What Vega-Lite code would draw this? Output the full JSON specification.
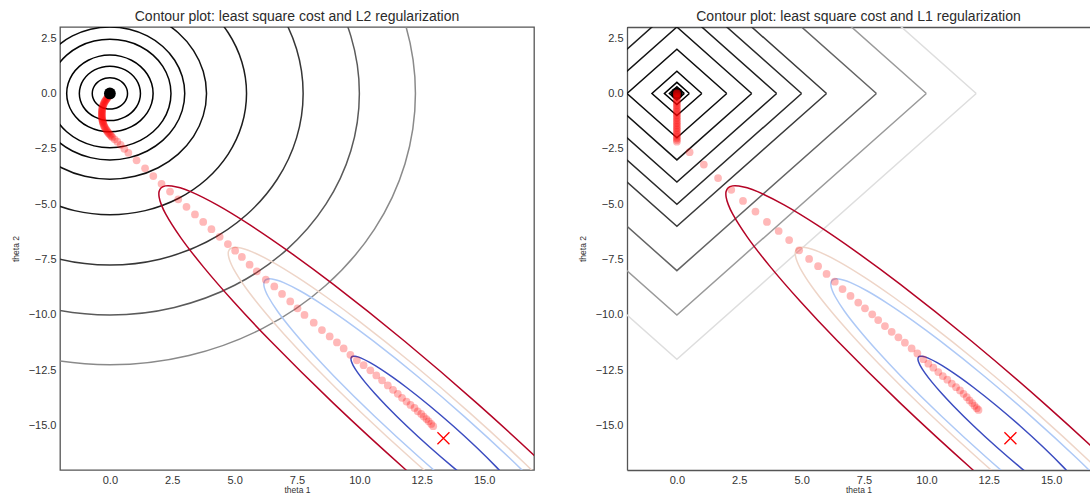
{
"$schema": "https://vega.github.io/schema/vega-lite/v6.json",
"padding": {"left": 10, "top": 9, "right": 0, "bottom": 0},
"spacing": 43,
"config": {
  "font": "Liberation Sans",
  "view": {"stroke": "#555555", "strokeWidth": 1.3},
  "axis": {"grid": false, "ticks": false, "tickSize": 0, "domain": false, "labelFontSize": 11, "labelColor": "#333333", "titleFontSize": 8.5, "titleFontWeight": "normal", "titleColor": "#333333"},
  "axisX": {"labelPadding": 4, "titlePadding": 0},
  "axisY": {"labelPadding": 4, "titlePadding": 8},
  "title": {"fontSize": 14, "fontWeight": "normal", "color": "#2b2b2b", "offset": 3}
},
"datasets": {
"circ": [
{"c":"r1","i":0,"x":0.707,"y":0},{"c":"r1","i":1,"x":0.683,"y":0.183},{"c":"r1","i":2,"x":0.612,"y":0.354},{"c":"r1","i":3,"x":0.5,"y":0.5},{"c":"r1","i":4,"x":0.354,"y":0.612},{"c":"r1","i":5,"x":0.183,"y":0.683},{"c":"r1","i":6,"x":0,"y":0.707},{"c":"r1","i":7,"x":-0.183,"y":0.683},{"c":"r1","i":8,"x":-0.354,"y":0.612},{"c":"r1","i":9,"x":-0.5,"y":0.5},{"c":"r1","i":10,"x":-0.612,"y":0.354},{"c":"r1","i":11,"x":-0.683,"y":0.183},{"c":"r1","i":12,"x":-0.707,"y":0},{"c":"r1","i":13,"x":-0.683,"y":-0.183},{"c":"r1","i":14,"x":-0.612,"y":-0.354},{"c":"r1","i":15,"x":-0.5,"y":-0.5},{"c":"r1","i":16,"x":-0.354,"y":-0.612},{"c":"r1","i":17,"x":-0.183,"y":-0.683},{"c":"r1","i":18,"x":0,"y":-0.707},{"c":"r1","i":19,"x":0.183,"y":-0.683},{"c":"r1","i":20,"x":0.354,"y":-0.612},{"c":"r1","i":21,"x":0.5,"y":-0.5},{"c":"r1","i":22,"x":0.612,"y":-0.354},{"c":"r1","i":23,"x":0.683,"y":-0.183},
{"c":"r2","i":0,"x":1.225,"y":0},{"c":"r2","i":1,"x":1.183,"y":0.317},{"c":"r2","i":2,"x":1.061,"y":0.612},{"c":"r2","i":3,"x":0.866,"y":0.866},{"c":"r2","i":4,"x":0.612,"y":1.061},{"c":"r2","i":5,"x":0.317,"y":1.183},{"c":"r2","i":6,"x":0,"y":1.225},{"c":"r2","i":7,"x":-0.317,"y":1.183},{"c":"r2","i":8,"x":-0.612,"y":1.061},{"c":"r2","i":9,"x":-0.866,"y":0.866},{"c":"r2","i":10,"x":-1.061,"y":0.612},{"c":"r2","i":11,"x":-1.183,"y":0.317},{"c":"r2","i":12,"x":-1.225,"y":0},{"c":"r2","i":13,"x":-1.183,"y":-0.317},{"c":"r2","i":14,"x":-1.061,"y":-0.612},{"c":"r2","i":15,"x":-0.866,"y":-0.866},{"c":"r2","i":16,"x":-0.612,"y":-1.061},{"c":"r2","i":17,"x":-0.317,"y":-1.183},{"c":"r2","i":18,"x":0,"y":-1.225},{"c":"r2","i":19,"x":0.317,"y":-1.183},{"c":"r2","i":20,"x":0.612,"y":-1.061},{"c":"r2","i":21,"x":0.866,"y":-0.866},{"c":"r2","i":22,"x":1.061,"y":-0.612},{"c":"r2","i":23,"x":1.183,"y":-0.317},
{"c":"r3","i":0,"x":1.732,"y":0},{"c":"r3","i":1,"x":1.673,"y":0.448},{"c":"r3","i":2,"x":1.5,"y":0.866},{"c":"r3","i":3,"x":1.225,"y":1.225},{"c":"r3","i":4,"x":0.866,"y":1.5},{"c":"r3","i":5,"x":0.448,"y":1.673},{"c":"r3","i":6,"x":0,"y":1.732},{"c":"r3","i":7,"x":-0.448,"y":1.673},{"c":"r3","i":8,"x":-0.866,"y":1.5},{"c":"r3","i":9,"x":-1.225,"y":1.225},{"c":"r3","i":10,"x":-1.5,"y":0.866},{"c":"r3","i":11,"x":-1.673,"y":0.448},{"c":"r3","i":12,"x":-1.732,"y":0},{"c":"r3","i":13,"x":-1.673,"y":-0.448},{"c":"r3","i":14,"x":-1.5,"y":-0.866},{"c":"r3","i":15,"x":-1.225,"y":-1.225},{"c":"r3","i":16,"x":-0.866,"y":-1.5},{"c":"r3","i":17,"x":-0.448,"y":-1.673},{"c":"r3","i":18,"x":0,"y":-1.732},{"c":"r3","i":19,"x":0.448,"y":-1.673},{"c":"r3","i":20,"x":0.866,"y":-1.5},{"c":"r3","i":21,"x":1.225,"y":-1.225},{"c":"r3","i":22,"x":1.5,"y":-0.866},{"c":"r3","i":23,"x":1.673,"y":-0.448},
{"c":"r4","i":0,"x":2.449,"y":0},{"c":"r4","i":1,"x":2.366,"y":0.634},{"c":"r4","i":2,"x":2.121,"y":1.225},{"c":"r4","i":3,"x":1.732,"y":1.732},{"c":"r4","i":4,"x":1.225,"y":2.121},{"c":"r4","i":5,"x":0.634,"y":2.366},{"c":"r4","i":6,"x":0,"y":2.449},{"c":"r4","i":7,"x":-0.634,"y":2.366},{"c":"r4","i":8,"x":-1.225,"y":2.121},{"c":"r4","i":9,"x":-1.732,"y":1.732},{"c":"r4","i":10,"x":-2.121,"y":1.225},{"c":"r4","i":11,"x":-2.366,"y":0.634},{"c":"r4","i":12,"x":-2.449,"y":0},{"c":"r4","i":13,"x":-2.366,"y":-0.634},{"c":"r4","i":14,"x":-2.121,"y":-1.225},{"c":"r4","i":15,"x":-1.732,"y":-1.732},{"c":"r4","i":16,"x":-1.225,"y":-2.121},{"c":"r4","i":17,"x":-0.634,"y":-2.366},{"c":"r4","i":18,"x":0,"y":-2.449},{"c":"r4","i":19,"x":0.634,"y":-2.366},{"c":"r4","i":20,"x":1.225,"y":-2.121},{"c":"r4","i":21,"x":1.732,"y":-1.732},{"c":"r4","i":22,"x":2.121,"y":-1.225},{"c":"r4","i":23,"x":2.366,"y":-0.634},
{"c":"r5","i":0,"x":3,"y":0},{"c":"r5","i":1,"x":2.898,"y":0.776},{"c":"r5","i":2,"x":2.598,"y":1.5},{"c":"r5","i":3,"x":2.121,"y":2.121},{"c":"r5","i":4,"x":1.5,"y":2.598},{"c":"r5","i":5,"x":0.776,"y":2.898},{"c":"r5","i":6,"x":0,"y":3},{"c":"r5","i":7,"x":-0.776,"y":2.898},{"c":"r5","i":8,"x":-1.5,"y":2.598},{"c":"r5","i":9,"x":-2.121,"y":2.121},{"c":"r5","i":10,"x":-2.598,"y":1.5},{"c":"r5","i":11,"x":-2.898,"y":0.776},{"c":"r5","i":12,"x":-3,"y":0},{"c":"r5","i":13,"x":-2.898,"y":-0.776},{"c":"r5","i":14,"x":-2.598,"y":-1.5},{"c":"r5","i":15,"x":-2.121,"y":-2.121},{"c":"r5","i":16,"x":-1.5,"y":-2.598},{"c":"r5","i":17,"x":-0.776,"y":-2.898},{"c":"r5","i":18,"x":0,"y":-3},{"c":"r5","i":19,"x":0.776,"y":-2.898},{"c":"r5","i":20,"x":1.5,"y":-2.598},{"c":"r5","i":21,"x":2.121,"y":-2.121},{"c":"r5","i":22,"x":2.598,"y":-1.5},{"c":"r5","i":23,"x":2.898,"y":-0.776},
{"c":"r6","i":0,"x":3.873,"y":0},{"c":"r6","i":1,"x":3.741,"y":1.002},{"c":"r6","i":2,"x":3.354,"y":1.936},{"c":"r6","i":3,"x":2.739,"y":2.739},{"c":"r6","i":4,"x":1.936,"y":3.354},{"c":"r6","i":5,"x":1.002,"y":3.741},{"c":"r6","i":6,"x":0,"y":3.873},{"c":"r6","i":7,"x":-1.002,"y":3.741},{"c":"r6","i":8,"x":-1.936,"y":3.354},{"c":"r6","i":9,"x":-2.739,"y":2.739},{"c":"r6","i":10,"x":-3.354,"y":1.936},{"c":"r6","i":11,"x":-3.741,"y":1.002},{"c":"r6","i":12,"x":-3.873,"y":0},{"c":"r6","i":13,"x":-3.741,"y":-1.002},{"c":"r6","i":14,"x":-3.354,"y":-1.936},{"c":"r6","i":15,"x":-2.739,"y":-2.739},{"c":"r6","i":16,"x":-1.936,"y":-3.354},{"c":"r6","i":17,"x":-1.002,"y":-3.741},{"c":"r6","i":18,"x":0,"y":-3.873},{"c":"r6","i":19,"x":1.002,"y":-3.741},{"c":"r6","i":20,"x":1.936,"y":-3.354},{"c":"r6","i":21,"x":2.739,"y":-2.739},{"c":"r6","i":22,"x":3.354,"y":-1.936},{"c":"r6","i":23,"x":3.741,"y":-1.002},
{"c":"r7","i":0,"x":5.477,"y":0},{"c":"r7","i":1,"x":5.29,"y":1.417},{"c":"r7","i":2,"x":4.743,"y":2.739},{"c":"r7","i":3,"x":3.873,"y":3.873},{"c":"r7","i":4,"x":2.739,"y":4.743},{"c":"r7","i":5,"x":1.417,"y":5.29},{"c":"r7","i":6,"x":0,"y":5.477},{"c":"r7","i":7,"x":-1.417,"y":5.29},{"c":"r7","i":8,"x":-2.739,"y":4.743},{"c":"r7","i":9,"x":-3.873,"y":3.873},{"c":"r7","i":10,"x":-4.743,"y":2.739},{"c":"r7","i":11,"x":-5.29,"y":1.417},{"c":"r7","i":12,"x":-5.477,"y":0},{"c":"r7","i":13,"x":-5.29,"y":-1.417},{"c":"r7","i":14,"x":-4.743,"y":-2.739},{"c":"r7","i":15,"x":-3.873,"y":-3.873},{"c":"r7","i":16,"x":-2.739,"y":-4.743},{"c":"r7","i":17,"x":-1.417,"y":-5.29},{"c":"r7","i":18,"x":0,"y":-5.477},{"c":"r7","i":19,"x":1.417,"y":-5.29},{"c":"r7","i":20,"x":2.739,"y":-4.743},{"c":"r7","i":21,"x":3.873,"y":-3.873},{"c":"r7","i":22,"x":4.743,"y":-2.739},{"c":"r7","i":23,"x":5.29,"y":-1.417},
{"c":"r8","i":0,"x":7.746,"y":0},{"c":"r8","i":1,"x":7.482,"y":2.005},{"c":"r8","i":2,"x":6.708,"y":3.873},{"c":"r8","i":3,"x":5.477,"y":5.477},{"c":"r8","i":4,"x":3.873,"y":6.708},{"c":"r8","i":5,"x":2.005,"y":7.482},{"c":"r8","i":6,"x":0,"y":7.746},{"c":"r8","i":7,"x":-2.005,"y":7.482},{"c":"r8","i":8,"x":-3.873,"y":6.708},{"c":"r8","i":9,"x":-5.477,"y":5.477},{"c":"r8","i":10,"x":-6.708,"y":3.873},{"c":"r8","i":11,"x":-7.482,"y":2.005},{"c":"r8","i":12,"x":-7.746,"y":0},{"c":"r8","i":13,"x":-7.482,"y":-2.005},{"c":"r8","i":14,"x":-6.708,"y":-3.873},{"c":"r8","i":15,"x":-5.477,"y":-5.477},{"c":"r8","i":16,"x":-3.873,"y":-6.708},{"c":"r8","i":17,"x":-2.005,"y":-7.482},{"c":"r8","i":18,"x":0,"y":-7.746},{"c":"r8","i":19,"x":2.005,"y":-7.482},{"c":"r8","i":20,"x":3.873,"y":-6.708},{"c":"r8","i":21,"x":5.477,"y":-5.477},{"c":"r8","i":22,"x":6.708,"y":-3.873},{"c":"r8","i":23,"x":7.482,"y":-2.005},
{"c":"r9","i":0,"x":10,"y":0},{"c":"r9","i":1,"x":9.659,"y":2.588},{"c":"r9","i":2,"x":8.66,"y":5},{"c":"r9","i":3,"x":7.071,"y":7.071},{"c":"r9","i":4,"x":5,"y":8.66},{"c":"r9","i":5,"x":2.588,"y":9.659},{"c":"r9","i":6,"x":0,"y":10},{"c":"r9","i":7,"x":-2.588,"y":9.659},{"c":"r9","i":8,"x":-5,"y":8.66},{"c":"r9","i":9,"x":-7.071,"y":7.071},{"c":"r9","i":10,"x":-8.66,"y":5},{"c":"r9","i":11,"x":-9.659,"y":2.588},{"c":"r9","i":12,"x":-10,"y":0},{"c":"r9","i":13,"x":-9.659,"y":-2.588},{"c":"r9","i":14,"x":-8.66,"y":-5},{"c":"r9","i":15,"x":-7.071,"y":-7.071},{"c":"r9","i":16,"x":-5,"y":-8.66},{"c":"r9","i":17,"x":-2.588,"y":-9.659},{"c":"r9","i":18,"x":0,"y":-10},{"c":"r9","i":19,"x":2.588,"y":-9.659},{"c":"r9","i":20,"x":5,"y":-8.66},{"c":"r9","i":21,"x":7.071,"y":-7.071},{"c":"r9","i":22,"x":8.66,"y":-5},{"c":"r9","i":23,"x":9.659,"y":-2.588},
{"c":"r10","i":0,"x":12.247,"y":0},{"c":"r10","i":1,"x":11.83,"y":3.17},{"c":"r10","i":2,"x":10.607,"y":6.124},{"c":"r10","i":3,"x":8.66,"y":8.66},{"c":"r10","i":4,"x":6.124,"y":10.607},{"c":"r10","i":5,"x":3.17,"y":11.83},{"c":"r10","i":6,"x":0,"y":12.247},{"c":"r10","i":7,"x":-3.17,"y":11.83},{"c":"r10","i":8,"x":-6.124,"y":10.607},{"c":"r10","i":9,"x":-8.66,"y":8.66},{"c":"r10","i":10,"x":-10.607,"y":6.124},{"c":"r10","i":11,"x":-11.83,"y":3.17},{"c":"r10","i":12,"x":-12.247,"y":0},{"c":"r10","i":13,"x":-11.83,"y":-3.17},{"c":"r10","i":14,"x":-10.607,"y":-6.124},{"c":"r10","i":15,"x":-8.66,"y":-8.66},{"c":"r10","i":16,"x":-6.124,"y":-10.607},{"c":"r10","i":17,"x":-3.17,"y":-11.83},{"c":"r10","i":18,"x":0,"y":-12.247},{"c":"r10","i":19,"x":3.17,"y":-11.83},{"c":"r10","i":20,"x":6.124,"y":-10.607},{"c":"r10","i":21,"x":8.66,"y":-8.66},{"c":"r10","i":22,"x":10.607,"y":-6.124},{"c":"r10","i":23,"x":11.83,"y":-3.17}
],
"diam": [
{"c":"d01","i":0,"x":0.3,"y":0},{"c":"d01","i":1,"x":0,"y":-0.3},{"c":"d01","i":2,"x":-0.3,"y":0},{"c":"d01","i":3,"x":0,"y":0.3},{"c":"d01","i":4,"x":0.3,"y":0},
{"c":"d02","i":0,"x":0.5,"y":0},{"c":"d02","i":1,"x":0,"y":-0.5},{"c":"d02","i":2,"x":-0.5,"y":0},{"c":"d02","i":3,"x":0,"y":0.5},{"c":"d02","i":4,"x":0.5,"y":0},
{"c":"d03","i":0,"x":1,"y":0},{"c":"d03","i":1,"x":0,"y":-1},{"c":"d03","i":2,"x":-1,"y":0},{"c":"d03","i":3,"x":0,"y":1},{"c":"d03","i":4,"x":1,"y":0},
{"c":"d04","i":0,"x":2,"y":0},{"c":"d04","i":1,"x":0,"y":-2},{"c":"d04","i":2,"x":-2,"y":0},{"c":"d04","i":3,"x":0,"y":2},{"c":"d04","i":4,"x":2,"y":0},
{"c":"d05","i":0,"x":3,"y":0},{"c":"d05","i":1,"x":0,"y":-3},{"c":"d05","i":2,"x":-3,"y":0},{"c":"d05","i":3,"x":0,"y":3},{"c":"d05","i":4,"x":3,"y":0},
{"c":"d06","i":0,"x":4,"y":0},{"c":"d06","i":1,"x":0,"y":-4},{"c":"d06","i":2,"x":-4,"y":0},{"c":"d06","i":3,"x":0,"y":4},{"c":"d06","i":4,"x":4,"y":0},
{"c":"d07","i":0,"x":5,"y":0},{"c":"d07","i":1,"x":0,"y":-5},{"c":"d07","i":2,"x":-5,"y":0},{"c":"d07","i":3,"x":0,"y":5},{"c":"d07","i":4,"x":5,"y":0},
{"c":"d08","i":0,"x":6,"y":0},{"c":"d08","i":1,"x":0,"y":-6},{"c":"d08","i":2,"x":-6,"y":0},{"c":"d08","i":3,"x":0,"y":6},{"c":"d08","i":4,"x":6,"y":0},
{"c":"d09","i":0,"x":8,"y":0},{"c":"d09","i":1,"x":0,"y":-8},{"c":"d09","i":2,"x":-8,"y":0},{"c":"d09","i":3,"x":0,"y":8},{"c":"d09","i":4,"x":8,"y":0},
{"c":"d10","i":0,"x":10,"y":0},{"c":"d10","i":1,"x":0,"y":-10},{"c":"d10","i":2,"x":-10,"y":0},{"c":"d10","i":3,"x":0,"y":10},{"c":"d10","i":4,"x":10,"y":0},
{"c":"d11","i":0,"x":12,"y":0},{"c":"d11","i":1,"x":0,"y":-12},{"c":"d11","i":2,"x":-12,"y":0},{"c":"d11","i":3,"x":0,"y":12},{"c":"d11","i":4,"x":12,"y":0}
],
"ell": [
{"e":"e1","i":0,"x":16.186,"y":-18.86},{"e":"e1","i":1,"x":15.515,"y":-18.385},{"e":"e1","i":2,"x":14.693,"y":-17.713},{"e":"e1","i":3,"x":13.775,"y":-16.891},{"e":"e1","i":4,"x":12.826,"y":-15.974},{"e":"e1","i":5,"x":11.909,"y":-15.025},{"e":"e1","i":6,"x":11.087,"y":-14.107},{"e":"e1","i":7,"x":10.619,"y":-13.545},{"e":"e1","i":8,"x":10.233,"y":-13.043},{"e":"e1","i":9,"x":9.94,"y":-12.614},{"e":"e1","i":10,"x":9.749,"y":-12.273},{"e":"e1","i":11,"x":9.694,"y":-12.14},{"e":"e1","i":12,"x":9.667,"y":-12.031},{"e":"e1","i":13,"x":9.667,"y":-11.949},{"e":"e1","i":14,"x":9.694,"y":-11.894},{"e":"e1","i":15,"x":9.749,"y":-11.867},{"e":"e1","i":16,"x":9.831,"y":-11.867},{"e":"e1","i":17,"x":9.94,"y":-11.894},{"e":"e1","i":18,"x":10.073,"y":-11.949},{"e":"e1","i":19,"x":10.414,"y":-12.14},{"e":"e1","i":20,"x":10.843,"y":-12.433},{"e":"e1","i":21,"x":11.345,"y":-12.819},{"e":"e1","i":22,"x":11.907,"y":-13.287},{"e":"e1","i":23,"x":12.825,"y":-14.109},{"e":"e1","i":24,"x":13.774,"y":-15.026},{"e":"e1","i":25,"x":14.691,"y":-15.975},{"e":"e1","i":26,"x":15.513,"y":-16.893},{"e":"e1","i":27,"x":16.185,"y":-17.715},{"e":"e1","i":28,"x":16.66,"y":-18.386},
{"e":"e2","i":0,"x":18.968,"y":-22.08},{"e":"e2","i":1,"x":17.655,"y":-21.145},{"e":"e2","i":2,"x":16.046,"y":-19.826},{"e":"e2","i":3,"x":14.249,"y":-18.211},{"e":"e2","i":4,"x":12.388,"y":-16.412},{"e":"e2","i":5,"x":10.589,"y":-14.551},{"e":"e2","i":6,"x":8.974,"y":-12.754},{"e":"e2","i":7,"x":8.056,"y":-11.654},{"e":"e2","i":8,"x":7.298,"y":-10.67},{"e":"e2","i":9,"x":6.72,"y":-9.832},{"e":"e2","i":10,"x":6.343,"y":-9.167},{"e":"e2","i":11,"x":6.234,"y":-8.906},{"e":"e2","i":12,"x":6.178,"y":-8.694},{"e":"e2","i":13,"x":6.177,"y":-8.536},{"e":"e2","i":14,"x":6.229,"y":-8.429},{"e":"e2","i":15,"x":6.336,"y":-8.377},{"e":"e2","i":16,"x":6.494,"y":-8.378},{"e":"e2","i":17,"x":6.706,"y":-8.434},{"e":"e2","i":18,"x":6.967,"y":-8.543},{"e":"e2","i":19,"x":7.632,"y":-8.92},{"e":"e2","i":20,"x":8.47,"y":-9.498},{"e":"e2","i":21,"x":9.454,"y":-10.256},{"e":"e2","i":22,"x":10.554,"y":-11.174},{"e":"e2","i":23,"x":12.351,"y":-12.789},{"e":"e2","i":24,"x":14.212,"y":-14.588},{"e":"e2","i":25,"x":16.011,"y":-16.449},{"e":"e2","i":26,"x":17.626,"y":-18.246},{"e":"e2","i":27,"x":18.945,"y":-19.855},{"e":"e2","i":28,"x":19.88,"y":-21.168},
{"e":"e3","i":0,"x":20.097,"y":-23.4},{"e":"e3","i":1,"x":18.52,"y":-22.28},{"e":"e3","i":2,"x":16.588,"y":-20.698},{"e":"e3","i":3,"x":14.431,"y":-18.761},{"e":"e3","i":4,"x":12.197,"y":-16.603},{"e":"e3","i":5,"x":10.039,"y":-14.369},{"e":"e3","i":6,"x":8.102,"y":-12.212},{"e":"e3","i":7,"x":7.001,"y":-10.891},{"e":"e3","i":8,"x":6.091,"y":-9.709},{"e":"e3","i":9,"x":5.401,"y":-8.704},{"e":"e3","i":10,"x":4.95,"y":-7.904},{"e":"e3","i":11,"x":4.819,"y":-7.59},{"e":"e3","i":12,"x":4.753,"y":-7.336},{"e":"e3","i":13,"x":4.751,"y":-7.143},{"e":"e3","i":14,"x":4.815,"y":-7.015},{"e":"e3","i":15,"x":4.943,"y":-6.951},{"e":"e3","i":16,"x":5.136,"y":-6.953},{"e":"e3","i":17,"x":5.39,"y":-7.019},{"e":"e3","i":18,"x":5.704,"y":-7.15},{"e":"e3","i":19,"x":6.504,"y":-7.6},{"e":"e3","i":20,"x":7.509,"y":-8.291},{"e":"e3","i":21,"x":8.691,"y":-9.201},{"e":"e3","i":22,"x":10.012,"y":-10.302},{"e":"e3","i":23,"x":12.169,"y":-12.239},{"e":"e3","i":24,"x":14.403,"y":-14.397},{"e":"e3","i":25,"x":16.561,"y":-16.631},{"e":"e3","i":26,"x":18.498,"y":-18.788},{"e":"e3","i":27,"x":20.08,"y":-20.72},{"e":"e3","i":28,"x":21.2,"y":-22.297},
{"e":"e4","i":0,"x":22.304,"y":-25.968},{"e":"e4","i":1,"x":20.215,"y":-24.485},{"e":"e4","i":2,"x":17.654,"y":-22.39},{"e":"e4","i":3,"x":14.796,"y":-19.824},{"e":"e4","i":4,"x":11.836,"y":-16.964},{"e":"e4","i":5,"x":8.976,"y":-14.004},{"e":"e4","i":6,"x":6.41,"y":-11.146},{"e":"e4","i":7,"x":4.952,"y":-9.394},{"e":"e4","i":8,"x":3.747,"y":-7.829},{"e":"e4","i":9,"x":2.832,"y":-6.496},{"e":"e4","i":10,"x":2.234,"y":-5.436},{"e":"e4","i":11,"x":2.061,"y":-5.019},{"e":"e4","i":12,"x":1.974,"y":-4.682},{"e":"e4","i":13,"x":1.972,"y":-4.428},{"e":"e4","i":14,"x":2.057,"y":-4.257},{"e":"e4","i":15,"x":2.228,"y":-4.172},{"e":"e4","i":16,"x":2.482,"y":-4.174},{"e":"e4","i":17,"x":2.819,"y":-4.261},{"e":"e4","i":18,"x":3.236,"y":-4.434},{"e":"e4","i":19,"x":4.296,"y":-5.032},{"e":"e4","i":20,"x":5.629,"y":-5.947},{"e":"e4","i":21,"x":7.194,"y":-7.152},{"e":"e4","i":22,"x":8.946,"y":-8.61},{"e":"e4","i":23,"x":11.804,"y":-11.176},{"e":"e4","i":24,"x":14.764,"y":-14.036},{"e":"e4","i":25,"x":17.624,"y":-16.996},{"e":"e4","i":26,"x":20.19,"y":-19.854},{"e":"e4","i":27,"x":22.285,"y":-22.415},{"e":"e4","i":28,"x":23.77,"y":-24.5}
],
"p2": [
{"x":0,"y":-0.05},{"x":-0.03,"y":-0.09},{"x":-0.05,"y":-0.12},{"x":-0.08,"y":-0.16},{"x":-0.1,"y":-0.2},{"x":-0.13,"y":-0.24},{"x":-0.15,"y":-0.28},{"x":-0.18,"y":-0.32},{"x":-0.2,"y":-0.36},{"x":-0.22,"y":-0.4},{"x":-0.24,"y":-0.45},{"x":-0.26,"y":-0.5},{"x":-0.27,"y":-0.55},{"x":-0.29,"y":-0.6},{"x":-0.3,"y":-0.65},{"x":-0.31,"y":-0.7},{"x":-0.31,"y":-0.75},{"x":-0.32,"y":-0.8},{"x":-0.32,"y":-0.85},{"x":-0.32,"y":-0.9},{"x":-0.32,"y":-0.95},{"x":-0.32,"y":-1.0},{"x":-0.32,"y":-1.05},{"x":-0.32,"y":-1.1},{"x":-0.31,"y":-1.15},{"x":-0.3,"y":-1.2},{"x":-0.29,"y":-1.25},{"x":-0.28,"y":-1.3},{"x":-0.27,"y":-1.35},{"x":-0.25,"y":-1.41},{"x":-0.23,"y":-1.47},{"x":-0.21,"y":-1.52},{"x":-0.18,"y":-1.58},{"x":-0.15,"y":-1.63},{"x":-0.12,"y":-1.68},{"x":-0.09,"y":-1.73},{"x":-0.06,"y":-1.78},{"x":-0.02,"y":-1.83},{"x":0.02,"y":-1.88},{"x":0.06,"y":-1.93},{"x":0.1,"y":-1.98},{"x":0.19,"y":-2.07},{"x":0.3,"y":-2.18},{"x":0.43,"y":-2.32},{"x":0.58,"y":-2.5},{"x":0.74,"y":-2.68},{"x":1.07,"y":-3.02},{"x":1.41,"y":-3.38},{"x":1.74,"y":-3.73},{"x":2.07,"y":-4.08},{"x":2.41,"y":-4.43},{"x":2.74,"y":-4.78},{"x":3.07,"y":-5.12},{"x":3.41,"y":-5.46},{"x":3.74,"y":-5.8},{"x":4.07,"y":-6.13},{"x":4.4,"y":-6.47},{"x":4.73,"y":-6.8},{"x":5.02,"y":-7.1},{"x":5.29,"y":-7.38},{"x":5.6,"y":-7.73},{"x":5.89,"y":-8.03},{"x":6.25,"y":-8.41},{"x":6.59,"y":-8.71},{"x":6.9,"y":-9.05},{"x":7.23,"y":-9.39},{"x":7.52,"y":-9.7},{"x":7.8,"y":-10.0},{"x":8.17,"y":-10.35},{"x":8.5,"y":-10.68},{"x":8.81,"y":-10.97},{"x":9.1,"y":-11.24},{"x":9.37,"y":-11.51},{"x":9.64,"y":-11.8},{"x":9.9,"y":-12.05},{"x":10.17,"y":-12.27},{"x":10.44,"y":-12.5},{"x":10.68,"y":-12.73},{"x":10.91,"y":-12.95},{"x":11.14,"y":-13.18},{"x":11.35,"y":-13.38},{"x":11.54,"y":-13.56},{"x":11.71,"y":-13.74},{"x":11.89,"y":-13.91},{"x":12.05,"y":-14.06},{"x":12.21,"y":-14.2},{"x":12.34,"y":-14.35},{"x":12.48,"y":-14.47},{"x":12.58,"y":-14.59},{"x":12.69,"y":-14.7},{"x":12.78,"y":-14.8},{"x":12.88,"y":-14.92},{"x":12.96,"y":-15.02}
],
"p1": [
{"x":0,"y":0},{"x":0,"y":0},{"x":0,"y":0},{"x":0,"y":-0.075},{"x":0,"y":-0.15},{"x":0,"y":-0.225},{"x":0,"y":-0.3},{"x":0,"y":-0.375},{"x":0,"y":-0.45},{"x":0,"y":-0.525},{"x":0,"y":-0.6},{"x":0,"y":-0.675},{"x":0,"y":-0.75},{"x":0,"y":-0.825},{"x":0,"y":-0.9},{"x":0,"y":-0.975},{"x":0,"y":-1.05},{"x":0,"y":-1.125},{"x":0,"y":-1.2},{"x":0,"y":-1.275},{"x":0,"y":-1.35},{"x":0,"y":-1.425},{"x":0,"y":-1.5},{"x":0,"y":-1.575},{"x":0,"y":-1.65},{"x":0,"y":-1.725},{"x":0,"y":-1.8},{"x":0,"y":-1.875},{"x":0,"y":-1.95},{"x":0,"y":-2.025},{"x":0,"y":-2.1},{"x":0,"y":-2.18},
{"x":0.51,"y":-2.65},{"x":1.08,"y":-3.21},{"x":1.65,"y":-3.82},{"x":2.18,"y":-4.35},{"x":2.65,"y":-4.85},{"x":3.15,"y":-5.33},{"x":3.61,"y":-5.8},{"x":4.08,"y":-6.21},{"x":4.5,"y":-6.62},{"x":4.9,"y":-7.08},{"x":5.3,"y":-7.47},{"x":5.66,"y":-7.8},{"x":6.0,"y":-8.15},{"x":6.33,"y":-8.5},{"x":6.64,"y":-8.83},{"x":6.96,"y":-9.14},{"x":7.27,"y":-9.44},{"x":7.54,"y":-9.7},{"x":7.83,"y":-9.97},{"x":8.07,"y":-10.23},{"x":8.34,"y":-10.5},{"x":8.61,"y":-10.76},{"x":8.88,"y":-11.01},{"x":9.14,"y":-11.25},{"x":9.41,"y":-11.51},{"x":9.64,"y":-11.74},{"x":9.88,"y":-12.0},{"x":10.08,"y":-12.2},{"x":10.28,"y":-12.38},{"x":10.48,"y":-12.58},{"x":10.66,"y":-12.76},{"x":10.84,"y":-12.92},{"x":11.02,"y":-13.1},{"x":11.19,"y":-13.26},{"x":11.35,"y":-13.41},{"x":11.49,"y":-13.56},{"x":11.62,"y":-13.71},{"x":11.73,"y":-13.86},{"x":11.84,"y":-13.98},{"x":11.93,"y":-14.1},{"x":12.02,"y":-14.21},{"x":12.09,"y":-14.29}
],
"opt": [{"x":13.37,"y":-15.57}],
"origin": [{"x":0,"y":0}]
},
"hconcat": [
{
  "title": "Contour plot: least square cost and L2 regularization",
  "width": 474, "height": 443,
  "resolve": {"scale": {"color": "independent"}},
  "encoding": {
    "x": {"field": "x", "type": "quantitative", "scale": {"domain": [-2, 17], "nice": false, "zero": false}, "axis": {"values": [0, 2.5, 5, 7.5, 10, 12.5, 15], "format": ".1f", "title": "theta 1"}},
    "y": {"field": "y", "type": "quantitative", "scale": {"domain": [-17, 3], "nice": false, "zero": false}, "axis": {"values": [2.5, 0, -2.5, -5, -7.5, -10, -12.5, -15], "format": ".1f", "title": "theta 2"}}
  },
  "layer": [
    {"data": {"name": "circ"}, "mark": {"type": "line", "interpolate": "cardinal-closed", "strokeWidth": 1.5, "clip": true},
     "encoding": {"order": {"field": "i", "type": "quantitative"}, "color": {"field": "c", "type": "nominal", "legend": null, "scale": {"domain": ["r1","r2","r3","r4","r5","r6","r7","r8","r9","r10"], "range": ["#000000","#000000","#000000","#050505","#0a0a0a","#111111","#1c1c1c","#373737","#5a5a5a","#8a8a8a"]}}}},
    {"data": {"name": "ell"}, "mark": {"type": "line", "interpolate": "catmull-rom", "strokeWidth": 1.5, "clip": true},
     "encoding": {"order": {"field": "i", "type": "quantitative"}, "color": {"field": "e", "type": "nominal", "legend": null, "scale": {"domain": ["e1","e2","e3","e4"], "range": ["#3b4cc0","#aec9f6","#eed5c8","#b40426"]}}}},
    {"data": {"name": "p2"}, "mark": {"type": "circle", "size": 60, "color": "#ff0000", "opacity": 0.28, "clip": true}},
    {"data": {"name": "origin"}, "mark": {"type": "circle", "size": 140, "color": "#000000", "opacity": 1}},
    {"data": {"name": "opt"}, "mark": {"type": "point", "shape": "M-1,-1L1,1M-1,1L1,-1", "size": 144, "filled": false, "color": "#ff0000", "strokeWidth": 1.3, "opacity": 1}}
  ]
},
{
  "title": "Contour plot: least square cost and L1 regularization",
  "width": 463, "height": 443,
  "view": {"stroke": null},
  "resolve": {"scale": {"color": "independent"}, "axis": {"x": "independent"}},
  "encoding": {
    "x": {"field": "x", "type": "quantitative", "scale": {"domain": [-2, 16.56], "nice": false, "zero": false}, "axis": null},
    "y": {"field": "y", "type": "quantitative", "scale": {"domain": [-17, 3], "nice": false, "zero": false}, "axis": {"values": [2.5, 0, -2.5, -5, -7.5, -10, -12.5, -15], "format": ".1f", "title": "theta 2", "domain": true, "domainColor": "#555555", "domainWidth": 1.3}}
  },
  "layer": [
    {"data": {"name": "diam"}, "mark": {"type": "line", "strokeWidth": 1.5, "clip": true},
     "encoding": {"x": {"field": "x", "type": "quantitative", "scale": {"domain": [-2, 16.56], "nice": false, "zero": false}, "axis": {"values": [0, 2.5, 5, 7.5, 10, 12.5, 15], "format": ".1f", "title": "theta 1", "domain": true, "domainColor": "#555555", "domainWidth": 1.3}},
      "order": {"field": "i", "type": "quantitative"}, "color": {"field": "c", "type": "nominal", "legend": null, "scale": {"domain": ["d01","d02","d03","d04","d05","d06","d07","d08","d09","d10","d11"], "range": ["#000000","#000000","#080808","#0d0d0d","#141414","#1e1e1e","#2a2a2a","#3a3a3a","#646464","#9a9a9a","#dedede"]}}}},
    {"data": {"name": "ell"}, "mark": {"type": "line", "interpolate": "catmull-rom", "strokeWidth": 1.5, "clip": true},
     "encoding": {"order": {"field": "i", "type": "quantitative"}, "color": {"field": "e", "type": "nominal", "legend": null, "scale": {"domain": ["e1","e2","e3","e4"], "range": ["#3b4cc0","#aec9f6","#eed5c8","#b40426"]}}}},
    {"data": {"name": "origin"}, "mark": {"type": "circle", "size": 140, "color": "#000000", "opacity": 1}},
    {"data": {"name": "p1"}, "mark": {"type": "circle", "size": 60, "color": "#ff0000", "opacity": 0.28, "clip": true}},
    {"data": {"name": "opt"}, "mark": {"type": "point", "shape": "M-1,-1L1,1M-1,1L1,-1", "size": 144, "filled": false, "color": "#ff0000", "strokeWidth": 1.3, "opacity": 1},
     "encoding": {"x": {"field": "x", "type": "quantitative", "scale": {"domain": [-2, 16.56], "nice": false, "zero": false}, "axis": {"orient": "top", "labels": false, "title": null, "domain": true, "domainColor": "#555555", "domainWidth": 1.3}}}}
  ]
}
]
}
